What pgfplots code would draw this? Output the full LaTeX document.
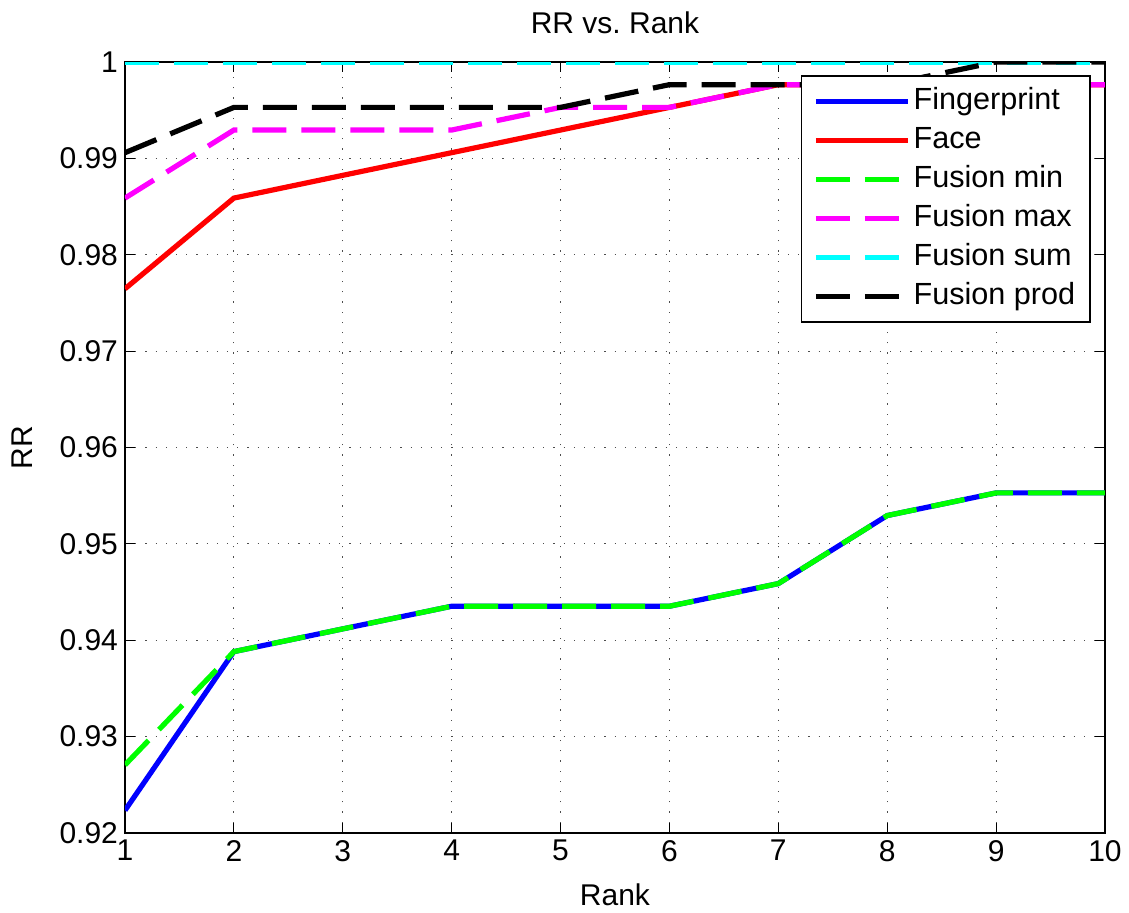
\documentclass[border=0pt]{standalone}
\usepackage{fontspec}
\setmainfont{Liberation Sans}
\usepackage{pgfplots}
\pgfplotsset{compat=1.18}
\definecolor{mmag}{rgb}{1,0,1}
\definecolor{mcyan}{rgb}{0,1,1}
\definecolor{mgreen}{rgb}{0,1,0}
\definecolor{mblue}{rgb}{0,0,1}
\definecolor{mred}{rgb}{1,0,0}
\begin{document}
\begin{tikzpicture}
\path[use as bounding box] (-62.5pt,-39.5pt) rectangle (502pt,416.5pt);
\begin{axis}[
  at={(0,0)}, anchor=south west,
  scale only axis, width=490pt, height=385.5pt,
  xmin=1, xmax=10, ymin=0.92, ymax=1,
  xtick={1,...,10},
  ytick={0.92,0.93,0.94,0.95,0.96,0.97,0.98,0.99,1},
  yticklabel style={/pgf/number format/fixed, /pgf/number format/precision=2},
  /pgf/number format/assume math mode=true,
  tick label style={font=\fontsize{15}{18}\selectfont},
  label style={font=\fontsize{15}{18}\selectfont},
  title style={font=\fontsize{15}{18}\selectfont, at={(axis description cs:0.5,1)}, anchor=center, yshift=13.5pt},
  title={RR vs.\ Rank},
  xlabel={Rank}, ylabel={RR},
  xlabel style={at={(axis description cs:0.5,0)}, anchor=center, yshift=-31pt},
  ylabel style={at={(axis description cs:-0.105,0.5)}, anchor=center, rotate=0},
  tick align=inside, major tick length=5pt,
  xtick pos=both, ytick pos=both,
  grid=major,
  major grid style={black!70, line width=0.4pt, dash pattern=on 0.6pt off 4.5pt},
  axis line style={black, line width=0.8pt},
  every tick/.style={black, line width=0.6pt},
  legend style={at={(0.9857,0.983)}, anchor=north east, draw=black, line width=0.8pt,
    font=\fontsize{15.3}{18}\selectfont,
    nodes={inner sep=1.5pt, text height=12.5pt, text depth=4pt},
    row sep=0pt, inner xsep=6pt, inner ysep=3pt,
    /tikz/every even column/.append style={column sep=5pt}},
  legend cell align=left,
  legend image code/.code={\draw[#1] (0pt,0pt) -- (46pt,0pt);},
  every axis plot/.append style={line width=2.6pt},
]
\addplot[mblue, solid] coordinates {(1,0.92235) (2,0.93882) (3,0.94118) (4,0.94353) (5,0.94353) (6,0.94353) (7,0.94588) (8,0.95294) (9,0.95529) (10,0.95529)};
\addlegendentry{Fingerprint}
\addplot[mred, solid] coordinates {(1,0.97647) (2,0.98588) (3,0.98824) (4,0.99059) (5,0.99294) (6,0.99529) (7,0.99765) (8,0.99765) (9,0.99765) (10,0.99765)};
\addlegendentry{Face}
\addplot[mgreen, dash pattern=on 17pt off 7.5pt] coordinates {(1,0.92706) (2,0.93882) (3,0.94118) (4,0.94353) (5,0.94353) (6,0.94353) (7,0.94588) (8,0.95294) (9,0.95529) (10,0.95529)};
\addlegendentry{Fusion min}
\addplot[mmag, dash pattern=on 17pt off 7.5pt] coordinates {(1,0.98588) (2,0.99294) (3,0.99294) (4,0.99294) (5,0.99529) (6,0.99529) (7,0.99765) (8,0.99765) (9,0.99765) (10,0.99765)};
\addlegendentry{Fusion max}
\addplot[mcyan, dash pattern=on 17pt off 7.5pt] coordinates {(1,1) (2,1) (3,1) (4,1) (5,1) (6,1) (7,1) (8,1) (9,1) (10,1)};
\addlegendentry{Fusion sum}
\addplot[black, dash pattern=on 17pt off 7.5pt] coordinates {(1,0.99059) (2,0.99529) (3,0.99529) (4,0.99529) (5,0.99529) (6,0.99765) (7,0.99765) (8,0.99765) (9,1) (10,1)};
\addlegendentry{Fusion prod}
\end{axis}
\end{tikzpicture}
\end{document}
